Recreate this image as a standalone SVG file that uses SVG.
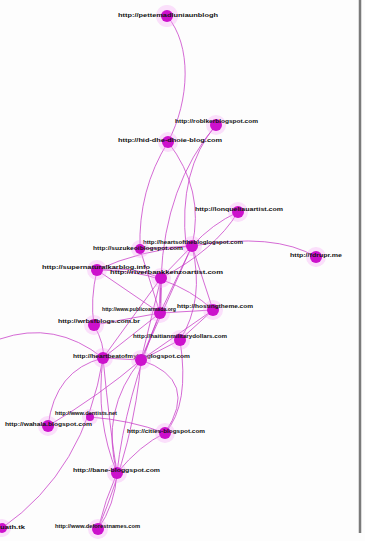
<svg xmlns="http://www.w3.org/2000/svg" width="365" height="541" viewBox="0 0 365 541">
<style>
.e{fill:none;stroke:#c83cc8;stroke-width:0.9;stroke-opacity:0.85}
.h{fill:#f6a6f6;opacity:0.35}
.n{fill:#cc11cc}
.t{font-family:"Liberation Sans",Arial,sans-serif;font-size:6px;font-weight:bold;fill:#111}
</style>
<rect width="365" height="541" fill="#fdfdfd"/>
<line x1="360" y1="0" x2="360" y2="533" stroke="#7a7a7a" stroke-width="2.5"/>
<g id="connectors">
<path class="e" d="M167,16 C192,45 190,100 168,142"/>
<path class="e" d="M168,142 Q138,190 140,249"/>
<path class="e" d="M168,142 Q205,190 192,246"/>
<path class="e" d="M216,125 Q178,170 186,246"/>
<path class="e" d="M216,125 Q165,185 161,278"/>
<path class="e" d="M192,246 Q212,224 238,212"/>
<path class="e" d="M192,246 Q275,232 316,257"/>
<path class="e" d="M192,246 Q140,250 97,270"/>
<path class="e" d="M192,246 L161,278"/>
<path class="e" d="M192,246 L160,313"/>
<path class="e" d="M192,246 L213,310"/>
<path class="e" d="M192,246 Q205,300 180,340"/>
<path class="e" d="M192,246 L141,360"/>
<path class="e" d="M161,278 L160,313" style="stroke-width:2.2"/>
<path class="e" d="M161,278 Q130,265 97,270"/>
<path class="e" d="M97,270 Q90,300 94,325"/>
<path class="e" d="M97,270 L160,313"/>
<path class="e" d="M97,270 Q170,270 213,310"/>
<path class="e" d="M161,278 L103,358"/>
<path class="e" d="M161,278 L141,360"/>
<path class="e" d="M160,313 L103,358"/>
<path class="e" d="M160,313 L141,360"/>
<path class="e" d="M160,313 L213,310"/>
<path class="e" d="M213,310 L141,360"/>
<path class="e" d="M180,340 L141,360"/>
<path class="e" d="M180,340 Q190,405 165,433"/>
<path class="e" d="M94,325 Q105,345 103,358"/>
<path class="e" d="M103,358 L141,360"/>
<path class="e" d="M103,358 Q55,370 48,426"/>
<path class="e" d="M0,339 Q55,320 103,358"/>
<path class="e" d="M2,528 Q85,470 103,358"/>
<path class="e" d="M103,358 Q95,420 117,473"/>
<path class="e" d="M103,358 Q110,430 117,473"/>
<path class="e" d="M141,360 Q100,410 117,473"/>
<path class="e" d="M117,473 Q105,500 98,529"/>
<path class="e" d="M117,473 Q115,505 98,529"/>
<path class="e" d="M117,473 Q140,445 165,433"/>
<path class="e" d="M90,417 Q130,420 165,433"/>
<path class="e" d="M141,360 Q200,380 165,433"/>
<path class="e" d="M160,313 Q125,400 117,473"/>
<path class="e" d="M238,212 Q215,250 161,278"/>
<path class="e" d="M140,249 L192,246"/>
<path class="e" d="M140,249 L160,313"/>
<path class="e" d="M180,340 L213,310"/>
<path class="e" d="M94,325 L160,313"/>
<path class="e" d="M48,426 Q100,395 141,360"/>
<path class="e" d="M98,529 Q135,440 141,360"/>
</g>
<g id="n1"><circle class="h" cx="167" cy="16" r="11"/><circle class="n" cx="167" cy="16" r="6"/><text class="t" x="118" y="17" textLength="100" lengthAdjust="spacingAndGlyphs">http://pettemadluniaunblogh</text></g>
<g id="n2"><circle class="h" cx="216" cy="125" r="10"/><circle class="n" cx="216" cy="125" r="6"/><text class="t" x="175" y="123" textLength="83" lengthAdjust="spacingAndGlyphs">http://roblkerblogspot.com</text></g>
<g id="n3"><circle class="h" cx="168" cy="142" r="10"/><circle class="n" cx="168" cy="142" r="6"/><text class="t" x="118" y="142" textLength="104" lengthAdjust="spacingAndGlyphs">http://hid-dhe-dhoie-blog.com</text></g>
<g id="n4"><circle class="h" cx="238" cy="212" r="10"/><circle class="n" cx="238" cy="212" r="6"/><text class="t" x="195" y="211" textLength="88" lengthAdjust="spacingAndGlyphs">http://lonqueliauartist.com</text></g>
<g id="n5"><circle class="h" cx="316" cy="257" r="10"/><circle class="n" cx="316" cy="257" r="6"/><text class="t" x="290" y="257" textLength="52" lengthAdjust="spacingAndGlyphs">http://fdrupr.me</text></g>
<g id="n6"><circle class="h" cx="192" cy="246" r="10"/><circle class="n" cx="192" cy="246" r="6"/><text class="t" x="143" y="244" textLength="100" lengthAdjust="spacingAndGlyphs">http://heartsofthebloglogspot.com</text></g>
<g id="n7"><circle class="h" cx="140" cy="249" r="9"/><circle class="n" cx="140" cy="249" r="5"/><text class="t" x="93" y="250" textLength="90" lengthAdjust="spacingAndGlyphs">http://suzukeoiblogspot.com</text></g>
<g id="n8"><circle class="h" cx="97" cy="270" r="10"/><circle class="n" cx="97" cy="270" r="6"/><text class="t" x="42" y="269" textLength="108" lengthAdjust="spacingAndGlyphs">http://supernaturalkarblog.info</text></g>
<g id="n9"><circle class="h" cx="161" cy="278" r="10"/><circle class="n" cx="161" cy="278" r="6"/><text class="t" x="110" y="274" textLength="113" lengthAdjust="spacingAndGlyphs">http://riverbankkenzoartist.com</text></g>
<g id="n10"><circle class="h" cx="160" cy="313" r="10"/><circle class="n" cx="160" cy="313" r="6"/><text class="t" x="102" y="311" textLength="74" lengthAdjust="spacingAndGlyphs">http://www.publicoarmada.org</text></g>
<g id="n11"><circle class="h" cx="213" cy="310" r="10"/><circle class="n" cx="213" cy="310" r="6"/><text class="t" x="177" y="308" textLength="76" lengthAdjust="spacingAndGlyphs">http://hostingtheme.com</text></g>
<g id="n12"><circle class="h" cx="94" cy="325" r="10"/><circle class="n" cx="94" cy="325" r="6"/><text class="t" x="58" y="323" textLength="82" lengthAdjust="spacingAndGlyphs">http://wrbsfblogs.com.br</text></g>
<g id="n13"><circle class="h" cx="180" cy="340" r="10"/><circle class="n" cx="180" cy="340" r="6"/><text class="t" x="133" y="338" textLength="94" lengthAdjust="spacingAndGlyphs">http://haitianmilitarydollars.com</text></g>
<g id="n14"><circle class="h" cx="103" cy="358" r="10"/><circle class="n" cx="103" cy="358" r="6"/><text class="t" x="73" y="358" textLength="117" lengthAdjust="spacingAndGlyphs">http://heartbeatofmybloglogspot.com</text></g>
<g id="n15"><circle class="h" cx="141" cy="360" r="10"/><circle class="n" cx="141" cy="360" r="6"/></g>
<g id="n16"><circle class="h" cx="90" cy="417" r="8"/><circle class="n" cx="90" cy="417" r="4"/><text class="t" x="55" y="415" textLength="62" lengthAdjust="spacingAndGlyphs">http://www.dentists.net</text></g>
<g id="n17"><circle class="h" cx="48" cy="426" r="10"/><circle class="n" cx="48" cy="426" r="6"/><text class="t" x="5" y="426" textLength="87" lengthAdjust="spacingAndGlyphs">http://wahala.blogspot.com</text></g>
<g id="n18"><circle class="h" cx="165" cy="433" r="10"/><circle class="n" cx="165" cy="433" r="6"/><text class="t" x="127" y="433" textLength="78" lengthAdjust="spacingAndGlyphs">http://cities-blogspot.com</text></g>
<g id="n19"><circle class="h" cx="117" cy="473" r="10"/><circle class="n" cx="117" cy="473" r="6"/><text class="t" x="73" y="472" textLength="87" lengthAdjust="spacingAndGlyphs">http://bane-bloggspot.com</text></g>
<g id="n20"><circle class="h" cx="98" cy="529" r="10"/><circle class="n" cx="98" cy="529" r="6"/><text class="t" x="55" y="528" textLength="85" lengthAdjust="spacingAndGlyphs">http://www.deforestnames.com</text></g>
<g id="n21"><circle class="h" cx="2" cy="528" r="9"/><circle class="n" cx="2" cy="528" r="5"/><text class="t" x="0" y="529" textLength="25" lengthAdjust="spacingAndGlyphs">uath.tk</text></g>
</svg>
